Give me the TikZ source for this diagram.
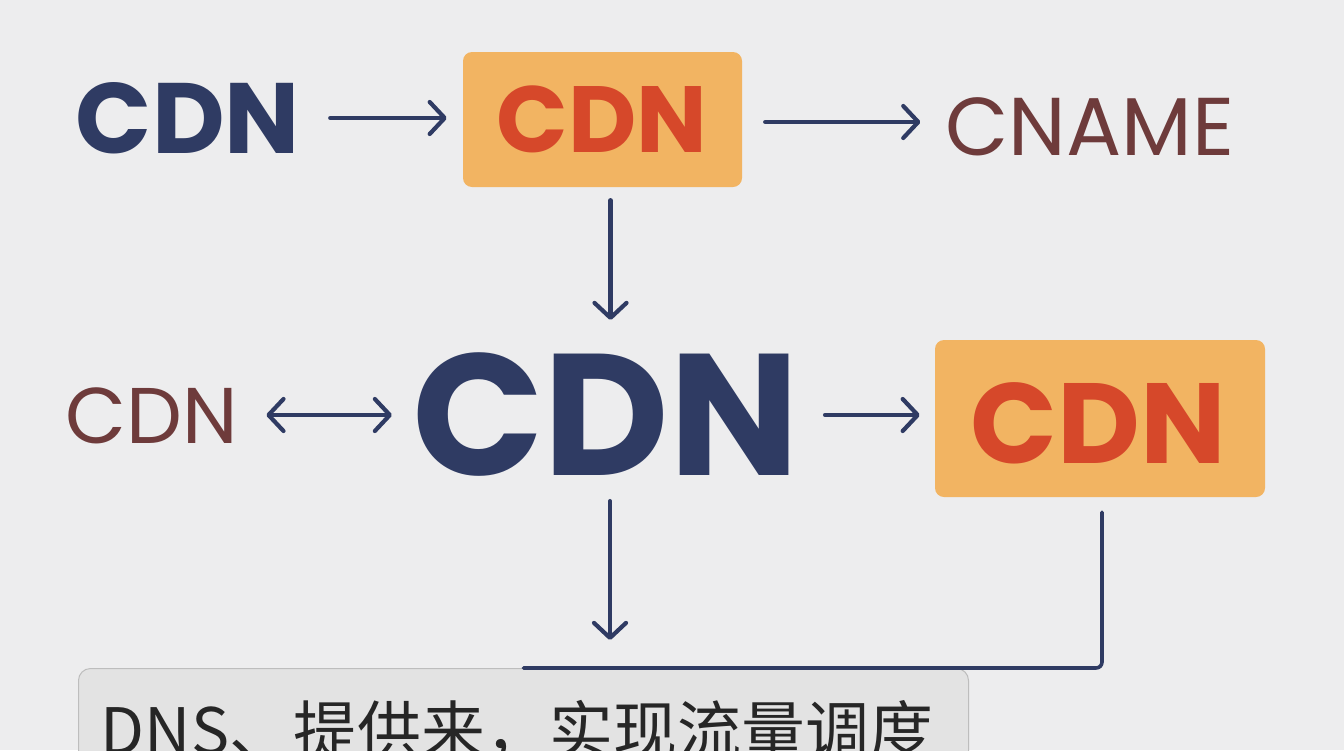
\documentclass[tikz,border=0pt]{standalone}
\usepackage{fontspec}
\newfontfamily\pop{Poppins}
\newfontfamily\cjk{Noto Sans CJK SC}
\usetikzlibrary{arrows.meta}
\definecolor{navy}{HTML}{2F3B63}
\definecolor{cdnred}{HTML}{D6482A}
\definecolor{boxorange}{HTML}{F2B462}
\definecolor{brownish}{HTML}{6E3B3B}
\definecolor{bgcol}{HTML}{EDEDEE}
\definecolor{graybox}{HTML}{E3E3E3}
\definecolor{grayline}{HTML}{BDBDBD}
\tikzset{
  txt/.style={inner sep=0pt, anchor=base},
  obox/.style={fill=boxorange, rounded corners=9pt, inner sep=0pt},
  barb/.tip={Straight Barb[length=15pt,width=32pt,line width=4.2pt,line cap=round,line join=round]},
  conn/.style={draw=navy, line width=4.2pt, line cap=round, -barb},
  conn2/.style={draw=navy, line width=4.2pt, line cap=round, barb-barb},
  plain/.style={draw=navy, line width=3.6pt, line cap=round, rounded corners=6pt}
}
\begin{document}
\begin{tikzpicture}[x=1pt,y=-1pt]
\fill[bgcol] (0,0) rectangle (1344,750);
\useasboundingbox (0,0) rectangle (1344,750);
\clip (0,0) rectangle (1344,750);

% top row
\node[txt, text=navy, font=\pop\bfseries\fontsize{100}{100}\selectfont] (cdn1) at (188,153) {CDN};
\node[obox, minimum width=279pt, minimum height=135pt] (box1) at (602.5,119.5) {};
\node[txt, text=cdnred, font=\pop\bfseries\fontsize{94}{94}\selectfont] (box1t) at (602,152) {CDN};
\node[txt, text=brownish, font=\pop\fontsize{82}{82}\selectfont] (cname) at (1090,155) {CNAME};

% middle row
\node[txt, text=navy, font=\pop\bfseries\fontsize{173}{173}\selectfont] (big) at (606,475) {CDN};
\node[txt, text=brownish, font=\pop\fontsize{79}{79}\selectfont] (small) at (152,443) {CDN};
\node[obox, minimum width=330pt, minimum height=157pt] (box2) at (1100,418.5) {};
\node[txt, text=cdnred, font=\pop\bfseries\fontsize{114}{114}\selectfont] (box2t) at (1098,463) {CDN};

% bottom box
\node[fill=graybox, draw=grayline, line width=1pt, rounded corners=12pt, minimum width=890pt, minimum height=160pt, inner sep=0pt, anchor=north west] (gbox) at (78,668) {};
\node[txt, font=\cjk\fontsize{64}{64}\selectfont, text=black!85] (gtext) at (517,754) {DNS、提供来，实现流量调度};

% connectors
\draw[conn] ([xshift=30pt]cdn1.east |- 0,118) -- ([xshift=-16pt]box1.west |- 0,118);
\draw[conn] ([xshift=23pt]box1.east |- 0,122) -- ([xshift=-25pt]cname.west |- 0,122);
\draw[conn] ([xshift=8pt,yshift=-13pt]box1.south) -- ([xshift=8pt]box1.south |- 0,320);
\draw[conn2] ([xshift=28pt]small.east |- 0,415) -- ([xshift=-20pt]big.west |- 0,415);
\draw[conn] ([xshift=25pt]big.east |- 0,415) -- ([xshift=-15pt]box2.west |- 0,415);
\draw[conn] ([xshift=4pt,yshift=-25pt]big.south) -- ([xshift=4pt]big.south |- 0,640);
\draw[plain] ([xshift=2pt,yshift=-15pt]box2.south) -- ([xshift=2pt]box2.south |- gbox.north) -- ([xshift=-4pt]gbox.north east) -- (gbox.north);
\end{tikzpicture}
\end{document}
